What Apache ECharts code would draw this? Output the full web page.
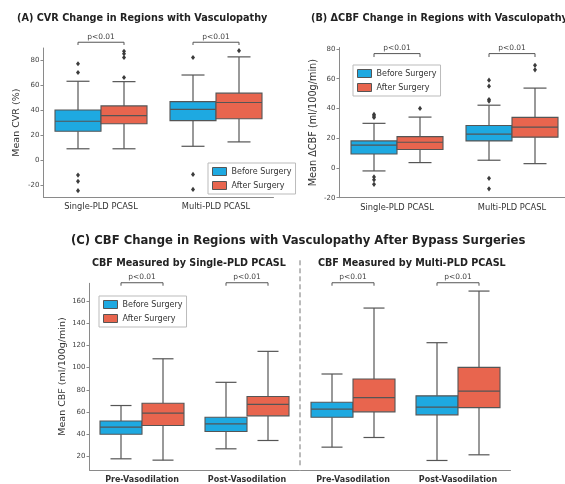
<!DOCTYPE html>
<html>
<head>
<meta charset="utf-8">
<script src="https://cdn.jsdelivr.net/npm/echarts@6/dist/echarts.min.js"></script>
<style>html,body{margin:0;padding:0;background:#fff;}#c{width:565px;height:484px;}</style>
</head>
<body>
<div id="c"></div>
<script>
// ---------- data ----------
const catsAB = ['Single-PLD PCASL', 'Multi-PLD PCASL'];
const catsC = ['Pre-Vasodilation', 'Post-Vasodilation'];
const legendNames = ['Before Surgery', 'After Surgery'];

// [min whisker, Q1, median, Q3, max whisker]
const cvrBefore = [[9, 23, 31, 40, 63], [11, 31.5, 40.5, 46.7, 68]];
const cvrAfter = [[9, 29, 35.5, 43.3, 62.7], [14.5, 33, 46, 53.5, 82.5]];
const cvrBeforeOut = [[77, 70, -12, -17, -24.5], [82, -11.5, -23.5]];
const cvrAfterOut = [[87, 85, 82, 66], [87.5]];

const dcbfBefore = [[-2, 9.4, 15.3, 18.2, 30], [5.2, 18.2, 22.7, 28.5, 42.2]];
const dcbfAfter = [[3.6, 12.4, 17.3, 21.1, 34.2], [2.9, 20.7, 27.4, 34, 53.7]];
const dcbfBeforeOut = [[36, 35, 34, -6, -8, -11], [59, 55, 46, 45, -7, -14]];
const dcbfAfterOut = [[40], [69, 66]];

const cbfSingleBefore = [[17.9, 40, 46.4, 52, 65.9], [26.9, 42.5, 49.4, 55.3, 86.8]];
const cbfSingleAfter = [[16.7, 47.9, 59, 68, 108], [34.4, 56.6, 67, 74, 114.7]];
const cbfMultiBefore = [[28.4, 55.4, 62.6, 68.9, 94.3], [16.4, 57.5, 64.4, 74.6, 122.5]];
const cbfMultiAfter = [[37.1, 60.2, 73, 89.8, 153.7], [21.5, 64, 78.8, 100.3, 169]];

const ticksAB = [-20, 0, 20, 40, 60, 80];
const ticksC = [20, 40, 60, 80, 100, 120, 140, 160];
const pText = 'p<0.01';
// bracket [top value, leg value] per panel
const bracketA = [94.2, 92];
const bracketB = [76.9, 74.6];
const bracketC = [176.5, 173.8];

// ---------- style ----------
const FONT = 'DejaVu Sans';
const BLUE = '#1ea9e1';
const RED = '#e8654e';
const EDGE = '#555555';
const AXIS = '#8a8a8a';

function makeBox(side) {
  return function (params, api) {
    const cat = api.value(0);
    const band = api.size([1, 0])[0];
    const half = band * 0.2;
    const cx = api.coord([cat, 0])[0] + side * half;
    const capHalf = half * 0.5;
    const Y = i => api.coord([cat, api.value(i)])[1];
    const yMin = Y(1), yQ1 = Y(2), yMed = Y(3), yQ3 = Y(4), yMax = Y(5);
    const ls = { stroke: EDGE, lineWidth: 1.2 };
    return {
      type: 'group',
      children: [
        { type: 'line', shape: { x1: cx, y1: yQ1, x2: cx, y2: yMin }, style: ls },
        { type: 'line', shape: { x1: cx, y1: yQ3, x2: cx, y2: yMax }, style: ls },
        { type: 'line', shape: { x1: cx - capHalf, y1: yMin, x2: cx + capHalf, y2: yMin }, style: ls },
        { type: 'line', shape: { x1: cx - capHalf, y1: yMax, x2: cx + capHalf, y2: yMax }, style: ls },
        { type: 'rect', shape: { x: cx - half, y: yQ3, width: half * 2, height: yQ1 - yQ3 },
          style: { fill: api.visual('color'), stroke: EDGE, lineWidth: 1.1 } },
        { type: 'line', shape: { x1: cx - half, y1: yMed, x2: cx + half, y2: yMed }, style: ls }
      ]
    };
  };
}

function renderOutlier(params, api) {
  const cat = api.value(0);
  const band = api.size([1, 0])[0];
  const side = api.value(2);
  const x = api.coord([cat, 0])[0] + side * band * 0.2;
  const y = api.coord([cat, api.value(1)])[1];
  return {
    type: 'polygon',
    shape: { points: [[x, y - 2.6], [x + 2, y], [x, y + 2.6], [x - 2, y]] },
    style: { fill: '#3c3c3c' }
  };
}

function renderBracket(params, api) {
  const cat = api.value(0);
  const band = api.size([1, 0])[0];
  const half = band * 0.2;
  const cx = api.coord([cat, 0])[0];
  const yTop = api.coord([cat, api.value(1)])[1];
  const yLeg = api.coord([cat, api.value(2)])[1];
  return {
    type: 'group',
    children: [
      { type: 'polyline', shape: { points: [[cx - half, yLeg], [cx - half, yTop], [cx + half, yTop], [cx + half, yLeg]] },
        style: { stroke: '#555', lineWidth: 1, fill: null } },
      { type: 'text', style: { text: pText, x: cx, y: yTop - 1.5, align: 'center', verticalAlign: 'bottom',
        fill: '#444', fontSize: 7.5, fontFamily: FONT } }
    ]
  };
}

function renderDivider(params, api) {
  const cs = params.coordSys;
  return {
    type: 'line',
    shape: { x1: cs.x - 0.5, y1: cs.y - 23, x2: cs.x - 0.5, y2: cs.y + cs.height - 2 },
    style: { stroke: '#777', lineWidth: 1, lineDash: [5, 3] }
  };
}

function boxData(arr) { return arr.map((d, i) => [i].concat(d)); }
function outData(before, after) {
  const res = [];
  before.forEach((vals, i) => vals.forEach(v => res.push([i, v, -1])));
  after.forEach((vals, i) => vals.forEach(v => res.push([i, v, 1])));
  return res;
}
function brData(b, n) { const r = []; for (let i = 0; i < n; i++) r.push([i, b[0], b[1]]); return r; }

function panelSeries(g, before, after, bOut, aOut, br) {
  return [
    { type: 'custom', name: legendNames[0], xAxisIndex: g, yAxisIndex: g, itemStyle: { color: BLUE },
      renderItem: makeBox(-1), encode: { x: 0, y: [1, 2, 3, 4, 5] }, data: boxData(before), z: 3 },
    { type: 'custom', name: legendNames[1], xAxisIndex: g, yAxisIndex: g, itemStyle: { color: RED },
      renderItem: makeBox(1), encode: { x: 0, y: [1, 2, 3, 4, 5] }, data: boxData(after), z: 3 },
    { type: 'custom', xAxisIndex: g, yAxisIndex: g, renderItem: renderOutlier,
      encode: { x: 0, y: 1 }, data: outData(bOut, aOut), z: 4 },
    { type: 'custom', xAxisIndex: g, yAxisIndex: g, renderItem: renderBracket,
      encode: { x: 0, y: 1 }, data: brData(br, 2), z: 4 }
  ];
}

const axisLabelStyle = { fontFamily: FONT, fontSize: 7, color: '#444' };

function xAxis(g, cats, bold, show) {
  return {
    type: 'category', gridIndex: g, data: cats,
    axisLine: { show: true, onZero: false, lineStyle: { color: AXIS, width: 1 } },
    axisTick: { show: false },
    axisLabel: { show: show, interval: 0, hideOverlap: false, fontFamily: FONT,
      fontSize: bold ? 8 : 8.3, color: '#333', margin: 6,
      fontWeight: bold ? 'bold' : 'normal' },
    splitLine: { show: false }
  };
}
function yAxis(g, min, max, ticks, name, gap, fs, show) {
  return {
    type: 'value', gridIndex: g, min: min, max: max, show: show,
    name: name, nameLocation: 'middle', nameGap: gap,
    nameTextStyle: { fontFamily: FONT, fontSize: fs, color: '#333' },
    axisLine: { show: true, onZero: false, lineStyle: { color: AXIS, width: 1 } },
    axisTick: { show: true, length: 3, lineStyle: { color: AXIS }, customValues: ticks },
    axisLabel: Object.assign({ customValues: ticks, margin: 4 }, axisLabelStyle),
    splitLine: { show: false }
  };
}

function legend(left, top) {
  return {
    left: left, top: top, orient: 'vertical',
    data: [
      { name: legendNames[0], itemStyle: { color: BLUE, borderColor: EDGE, borderWidth: 1 } },
      { name: legendNames[1], itemStyle: { color: RED, borderColor: EDGE, borderWidth: 1 } }
    ],
    icon: 'rect', itemWidth: 14, itemHeight: 8, itemGap: 5,
    padding: [4, 4, 4, 4], borderColor: '#bbb', borderWidth: 1, backgroundColor: '#fff',
    textStyle: { fontFamily: FONT, fontSize: 8, color: '#333' },
    selectedMode: false
  };
}

const titleStyle = (size) => ({ fontFamily: FONT, fontSize: size, fontWeight: 'bold', color: '#222' });

const option = {
  animation: false,
  backgroundColor: '#fff',
  title: [
    { text: '(A) CVR Change in Regions with Vasculopathy', left: 17, top: 13, textStyle: titleStyle(9.7), padding: 0 },
    { text: '(B) ΔCBF Change in Regions with Vasculopathy', left: 311, top: 13, textStyle: titleStyle(9.7), padding: 0 },
    { text: '(C) CBF Change in Regions with Vasculopathy After Bypass Surgeries', left: 71, top: 235, textStyle: titleStyle(11.65), padding: 0 },
    { text: 'CBF Measured by Single-PLD PCASL', left: 92, top: 258, textStyle: titleStyle(9.6), padding: 0 },
    { text: 'CBF Measured by Multi-PLD PCASL', left: 318, top: 258, textStyle: titleStyle(9.6), padding: 0 }
  ],
  legend: [legend(208, 163), legend(353, 65), legend(99, 296)],
  grid: [
    { left: 43.5, top: 48, width: 230, height: 149.3, outerBoundsMode: 'none' },
    { left: 339.5, top: 47.5, width: 230, height: 150.2, outerBoundsMode: 'none' },
    { left: 89.5, top: 283.3, width: 210, height: 186.5, outerBoundsMode: 'none' },
    { left: 300.5, top: 283.3, width: 210, height: 186.5, outerBoundsMode: 'none' }
  ],
  xAxis: [xAxis(0, catsAB, false, true), xAxis(1, catsAB, false, true), xAxis(2, catsC, true, true), xAxis(3, catsC, true, true)],
  yAxis: [
    yAxis(0, -29.8, 89.6, ticksAB, 'Mean CVR (%)', 21.5, 9.5, true),
    yAxis(1, -20, 81, ticksAB, 'Mean ΔCBF (ml/100g/min)', 21.5, 9.7, true),
    yAxis(2, 8, 176, ticksC, 'Mean CBF (ml/100g/min)', 21.5, 9.5, true),
    yAxis(3, 8, 176, ticksC, '', 0, 9.5, false)
  ],
  series: [].concat(
    panelSeries(0, cvrBefore, cvrAfter, cvrBeforeOut, cvrAfterOut, bracketA),
    panelSeries(1, dcbfBefore, dcbfAfter, dcbfBeforeOut, dcbfAfterOut, bracketB),
    panelSeries(2, cbfSingleBefore, cbfSingleAfter, [[], []], [[], []], bracketC),
    panelSeries(3, cbfMultiBefore, cbfMultiAfter, [[], []], [[], []], bracketC),
    [{ type: 'custom', xAxisIndex: 3, yAxisIndex: 3, renderItem: renderDivider, data: [[0, 100]], encode: { x: 0, y: 1 }, silent: true }]
  )
};

const chart = echarts.init(document.getElementById('c'), null, { renderer: 'canvas' });
chart.setOption(option);
</script>
</body>
</html>
